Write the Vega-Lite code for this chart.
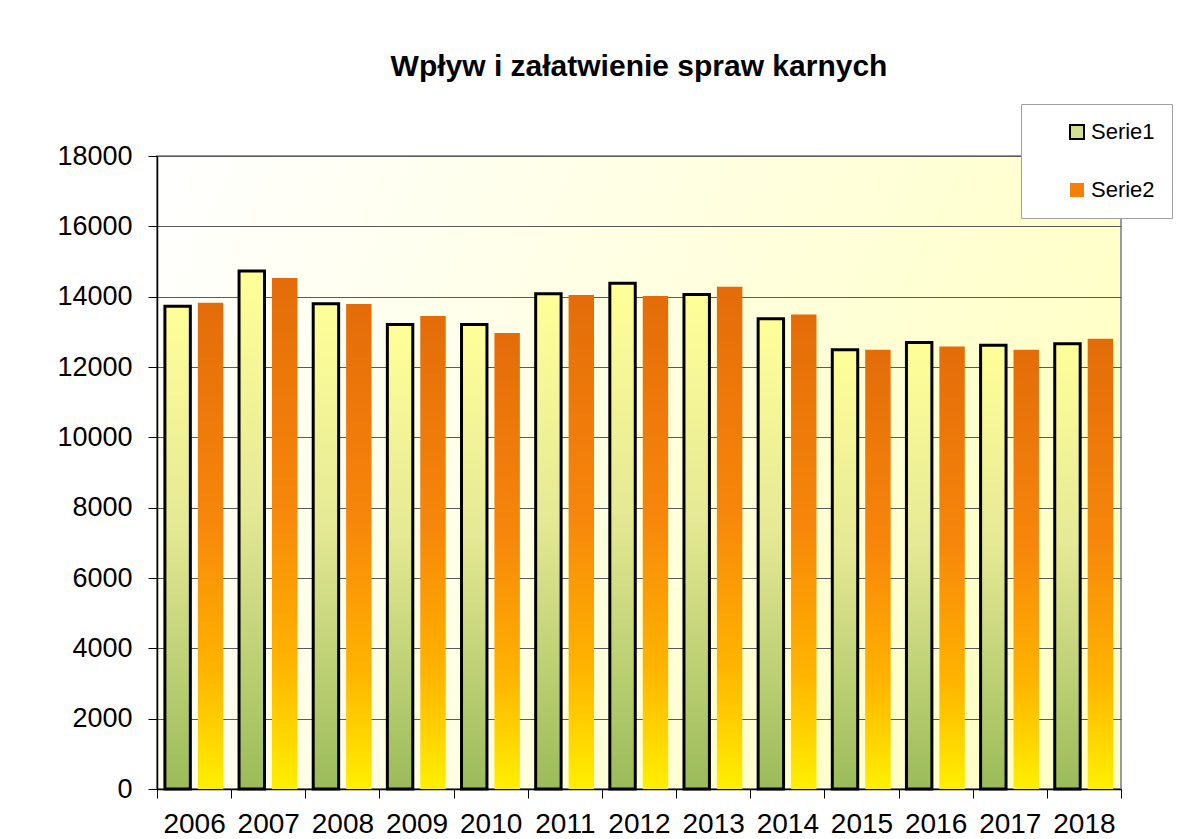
{
  "$schema": "https://vega.github.io/schema/vega-lite/v6.json",
  "width": 964,
  "height": 633,
  "autosize": "none",
  "padding": {"left": 157, "top": 156, "right": 81, "bottom": 50},
  "background": "white",
  "title": {
    "text": "Wpływ i załatwienie spraw karnych",
    "font": "Liberation Sans",
    "fontSize": 30,
    "fontWeight": "bold",
    "color": "#000000",
    "anchor": "middle",
    "frame": "group",
    "offset": 22
  },
  "data": {
    "values": [
      {"year": "2006", "series": "Serie1", "value": 13730},
      {"year": "2006", "series": "Serie2", "value": 13830},
      {"year": "2007", "series": "Serie1", "value": 14730},
      {"year": "2007", "series": "Serie2", "value": 14530},
      {"year": "2008", "series": "Serie1", "value": 13800},
      {"year": "2008", "series": "Serie2", "value": 13790},
      {"year": "2009", "series": "Serie1", "value": 13210},
      {"year": "2009", "series": "Serie2", "value": 13450},
      {"year": "2010", "series": "Serie1", "value": 13210},
      {"year": "2010", "series": "Serie2", "value": 12970},
      {"year": "2011", "series": "Serie1", "value": 14080},
      {"year": "2011", "series": "Serie2", "value": 14050},
      {"year": "2012", "series": "Serie1", "value": 14380},
      {"year": "2012", "series": "Serie2", "value": 14020},
      {"year": "2013", "series": "Serie1", "value": 14060},
      {"year": "2013", "series": "Serie2", "value": 14280},
      {"year": "2014", "series": "Serie1", "value": 13370},
      {"year": "2014", "series": "Serie2", "value": 13490},
      {"year": "2015", "series": "Serie1", "value": 12490},
      {"year": "2015", "series": "Serie2", "value": 12490},
      {"year": "2016", "series": "Serie1", "value": 12700},
      {"year": "2016", "series": "Serie2", "value": 12580},
      {"year": "2017", "series": "Serie1", "value": 12620},
      {"year": "2017", "series": "Serie2", "value": 12490},
      {"year": "2018", "series": "Serie1", "value": 12660},
      {"year": "2018", "series": "Serie2", "value": 12800}
    ]
  },
  "encoding": {
    "x": {
      "field": "year",
      "type": "nominal",
      "scale": {"paddingInner": 0, "paddingOuter": 0},
      "axis": {
        "title": null,
        "labelAngle": 0,
        "labelFont": "Liberation Sans",
        "labelFontSize": 28,
        "labelColor": "#000000",
        "labelPadding": 12,
        "tickBand": "extent",
        "tickSize": 9,
        "tickColor": "#000000",
        "domainColor": "#000000",
        "domainWidth": 1.5,
        "grid": false
      }
    },
    "xOffset": {
      "field": "series",
      "type": "nominal",
      "scale": {"domain": ["Serie1", "Serie2"], "paddingInner": 0.227, "paddingOuter": 0.24}
    },
    "y": {
      "field": "value",
      "type": "quantitative",
      "scale": {"domain": [0, 18000], "nice": false},
      "axis": {
        "title": null,
        "format": "d",
        "values": [0, 2000, 4000, 6000, 8000, 10000, 12000, 14000, 16000, 18000],
        "labelFont": "Liberation Sans",
        "labelFontSize": 27,
        "labelColor": "#000000",
        "labelPadding": 16,
        "labelFlush": false,
        "labelOverlap": false,
        "tickSize": 9,
        "tickColor": "#000000",
        "domainColor": "#000000",
        "domainWidth": 1.5,
        "grid": true,
        "gridColor": "#5a5a5a",
        "gridWidth": 1
      }
    }
  },
  "layer": [
    {
      "transform": [{"filter": "datum.series === 'Serie1'"}],
      "mark": {
        "type": "bar",
        "stroke": "#000000",
        "strokeWidth": 3,
        "fill": {"gradient": "linear", "x1": 0, "y1": 0, "x2": 0, "y2": 1, "stops": [
          {"offset": 0, "color": "#FFFF99"},
          {"offset": 0.45, "color": "#E6E995"},
          {"offset": 1, "color": "#9BBB59"}
        ]}
      }
    },
    {
      "transform": [{"filter": "datum.series === 'Serie2'"}],
      "mark": {
        "type": "bar",
        "fill": {"gradient": "linear", "x1": 0, "y1": 0, "x2": 0, "y2": 1, "stops": [
          {"offset": 0, "color": "#E36C09"},
          {"offset": 0.45, "color": "#F7870B"},
          {"offset": 0.75, "color": "#FFB300"},
          {"offset": 1, "color": "#FFF000"}
        ]}
      }
    },
    {
      "mark": {"type": "bar", "opacity": 0},
      "encoding": {
        "fill": {
          "field": "series",
          "type": "nominal",
          "scale": {"domain": ["Serie1", "Serie2"], "range": ["#D2DF8E", "#F4800A"]},
          "legend": {
            "title": null,
            "orient": "none",
            "legendX": 864,
            "legendY": -52,
            "padding": 17,
            "fillColor": "#FFFFFF",
            "strokeColor": "#A0A0A0",
            "symbolType": "square",
            "symbolSize": 196,
            "symbolOpacity": 1,
            "symbolStrokeWidth": 2,
            "symbolOffset": 28,
            "labelFont": "Liberation Sans",
            "labelFontSize": 22,
            "labelColor": "#000000",
            "labelOffset": 3,
            "rowPadding": 36,
            "encode": {
              "symbols": {
                "update": {
                  "opacity": {"value": 1},
                  "fill": {"signal": "datum.value === 'Serie1' ? {gradient: 'linear', x1: 0, y1: 0, x2: 0, y2: 1, stops: [{offset: 0, color: '#E4EC9C'}, {offset: 1, color: '#A9C46A'}]} : {gradient: 'linear', x1: 0, y1: 0, x2: 0, y2: 1, stops: [{offset: 0, color: '#E8700A'}, {offset: 0.55, color: '#FF9500'}, {offset: 1, color: '#FFF000'}]}"},
                  "stroke": [
                    {"test": "datum.value === 'Serie1'", "value": "#000000"},
                    {"value": "transparent"}
                  ],
                  "strokeWidth": {"value": 2}
                }
              }
            }
          }
        }
      }
    }
  ],
  "config": {
    "view": {
      "fill": {"gradient": "linear", "x1": 0, "y1": 0, "x2": 1, "y2": 0.3, "stops": [
        {"offset": 0, "color": "#FFFFFF"},
        {"offset": 1, "color": "#FFFFC8"}
      ]},
      "stroke": "#9A9A9A",
      "strokeWidth": 2
    }
  }
}
